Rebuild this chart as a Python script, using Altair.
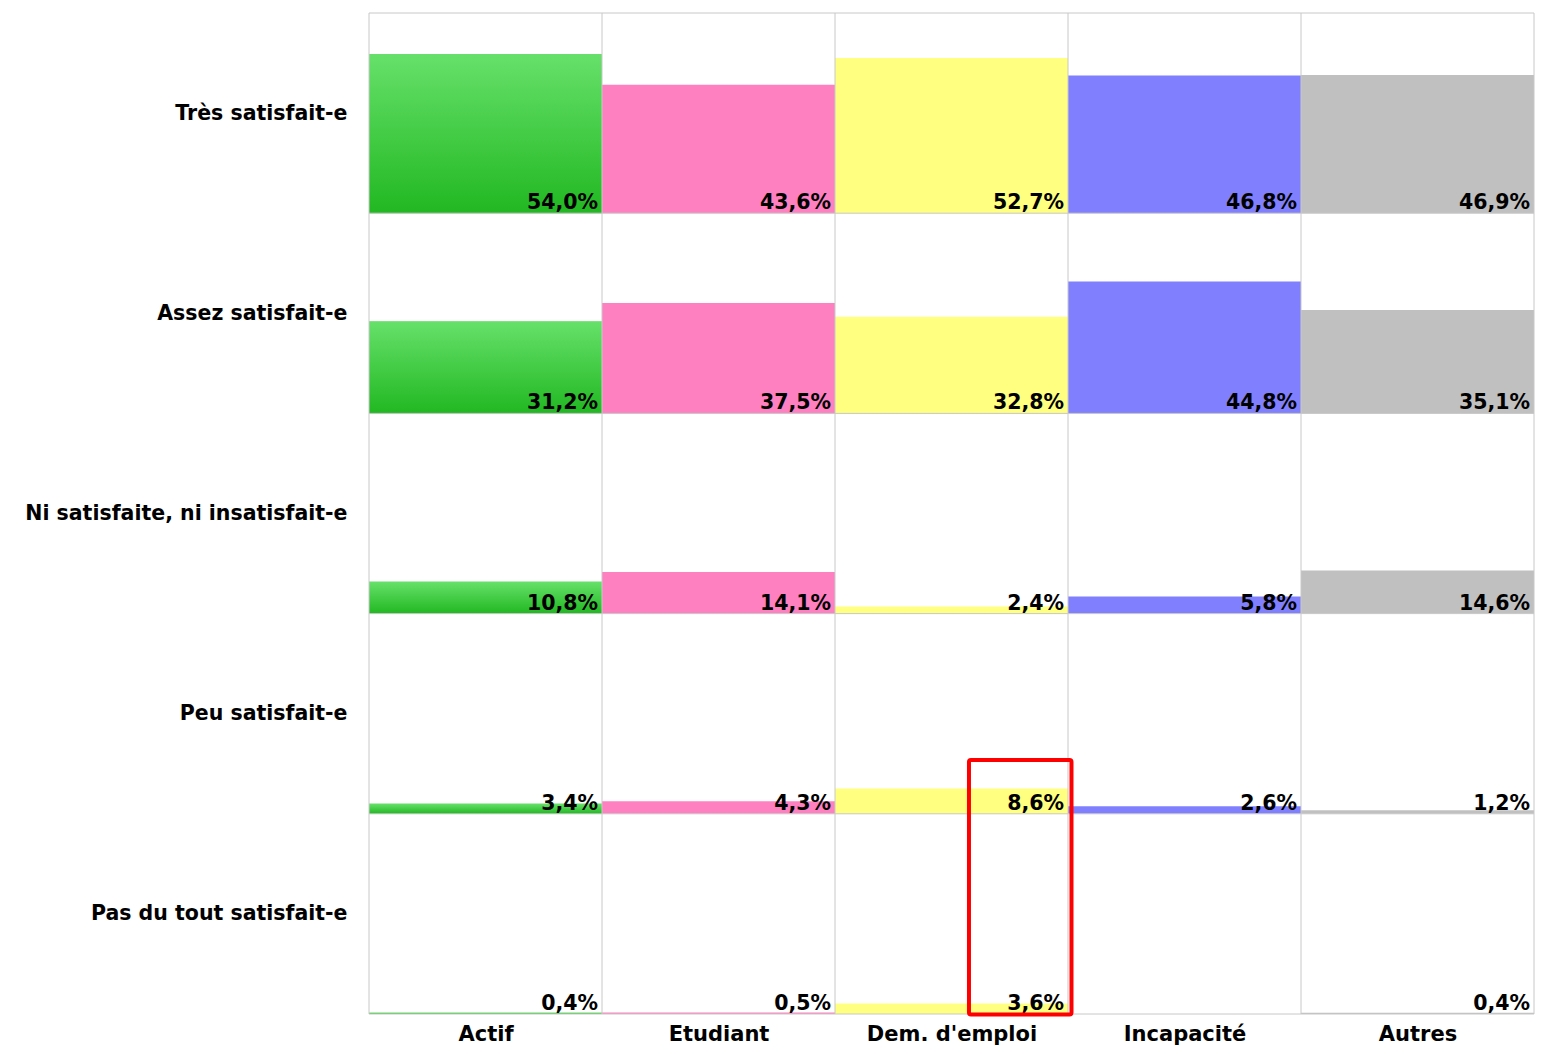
import json
import altair as alt
import pandas as pd

# ---- data ----
satisfaction = [
    "Très satisfait-e",
    "Assez satisfait-e",
    "Ni satisfaite, ni insatisfait-e",
    "Peu satisfait-e",
    "Pas du tout satisfait-e",
]
statuts = ["Actif", "Etudiant", "Dem. d'emploi", "Incapacité", "Autres"]

actif = [54.0, 31.2, 10.8, 3.4, 0.4]
etudiant = [43.6, 37.5, 14.1, 4.3, 0.5]
dem_emploi = [52.7, 32.8, 2.4, 8.6, 3.6]
incapacite = [46.8, 44.8, 5.8, 2.6, None]
autres = [46.9, 35.1, 14.6, 1.2, 0.4]

colours = ["#3CCB3C", "#FF80C0", "#FFFF80", "#8080FF", "#C0C0C0"]

ROW_MAX = 68.0  # value range shown in each row cell (%)
N_ROWS = len(satisfaction)
N_COLS = len(statuts)

series = [actif, etudiant, dem_emploi, incapacite, autres]
records = []
for ci, (name, vals) in enumerate(zip(statuts, series)):
    for ri, v in enumerate(vals):
        records.append({"statut": name, "ci": ci, "satisf": satisfaction[ri], "ri": ri,
                        "value": v if v is not None else 0.0,
                        "has": v is not None,
                        "label": (f"{v:.1f}".replace(".", ",") + "%") if v is not None else ""})
df = pd.DataFrame(records)

FONT = "DejaVu Sans"

base = alt.Chart(df).transform_calculate(
    x0="datum.ci",
    x1="datum.ci + 1",
    y0=f"({N_ROWS - 1} - datum.ri) * {ROW_MAX}",
).transform_calculate(
    y1="datum.y0 + datum.value"
)

xscale = alt.Scale(domain=[0, N_COLS], nice=False, zero=False)
yscale = alt.Scale(domain=[0, N_ROWS * ROW_MAX], nice=False, zero=False)

x_label_expr = json.dumps(statuts, ensure_ascii=False) + "[floor(datum.value)]"
y_label_expr = json.dumps(satisfaction[::-1], ensure_ascii=False) + f"[floor(datum.value / {ROW_MAX})]"

x_axis = alt.Axis(values=[i + 0.5 for i in range(N_COLS)], labelExpr=x_label_expr, title=None,
                  labelPadding=9, labelFontSize=21, labelFont=FONT, labelFontWeight="bold",
                  labelColor="#000000", domain=False, ticks=False, grid=False, labelAngle=0,
                  labelLimit=0)
y_axis = alt.Axis(values=[(i + 0.5) * ROW_MAX for i in range(N_ROWS)], labelExpr=y_label_expr, title=None,
                  labelPadding=22, labelFontSize=20.5, labelFont=FONT, labelFontWeight="bold",
                  labelColor="#000000", domain=False, ticks=False, grid=False, labelLimit=0)

bars = base.mark_rect().encode(
    x=alt.X("x0:Q", scale=xscale, axis=x_axis),
    x2="x1:Q",
    y=alt.Y("y0:Q", scale=yscale, axis=y_axis),
    y2="y1:Q",
    color=alt.Color("statut:N", scale=alt.Scale(domain=statuts, range=colours), legend=None),
)

green_grad = alt.Gradient(
    gradient="linear",
    stops=[alt.GradientStop(color="#66E06A", offset=0), alt.GradientStop(color="#22B822", offset=1)],
    x1=0, x2=0, y1=0, y2=1,
)
bars_actif = base.transform_filter(alt.datum.statut == statuts[0]).mark_rect(color=green_grad).encode(
    x=alt.X("x0:Q", scale=xscale), x2="x1:Q",
    y=alt.Y("y0:Q", scale=yscale), y2="y1:Q",
)

col_lines = pd.DataFrame({"b": list(range(N_COLS + 1))})
row_lines = pd.DataFrame({"b": [i * ROW_MAX for i in range(N_ROWS + 1)]})
vrules = alt.Chart(col_lines).mark_rule(color="#C8C8C8", strokeWidth=1).encode(
    x=alt.X("b:Q", scale=xscale))
hrules = alt.Chart(row_lines).mark_rule(color="#C8C8C8", strokeWidth=1).encode(
    y=alt.Y("b:Q", scale=yscale))

labels = base.transform_filter(alt.datum.has).mark_text(
    align="right", baseline="alphabetic", dx=-4, dy=-4,
    font=FONT, fontSize=20.5, fontWeight="bold", color="#000000",
).encode(
    x=alt.X("x1:Q", scale=xscale),
    y=alt.Y("y0:Q", scale=yscale),
    text="label:N",
)

# red highlight box around Dem. d'emploi, two lowest rows
highlight = pd.DataFrame([{"x0": 2.575, "x1": 3.015, "y0": -0.2, "y1": 86.3}])
box = alt.Chart(highlight).mark_rect(filled=False, stroke="#FF0000", strokeWidth=4, cornerRadius=2).encode(
    x=alt.X("x0:Q", scale=xscale), x2="x1:Q",
    y=alt.Y("y0:Q", scale=yscale), y2="y1:Q",
)

chart = alt.layer(bars, bars_actif, vrules, hrules, labels, box).properties(
    width=1165, height=1001,
    autosize=alt.AutoSizeParams(type="none"),
    padding={"left": 361, "top": 5, "right": 1, "bottom": 32},
    background="#FFFFFF",
).configure_view(stroke=None)

chart.save("out.html", embed_options={"renderer": "svg", "actions": False})
